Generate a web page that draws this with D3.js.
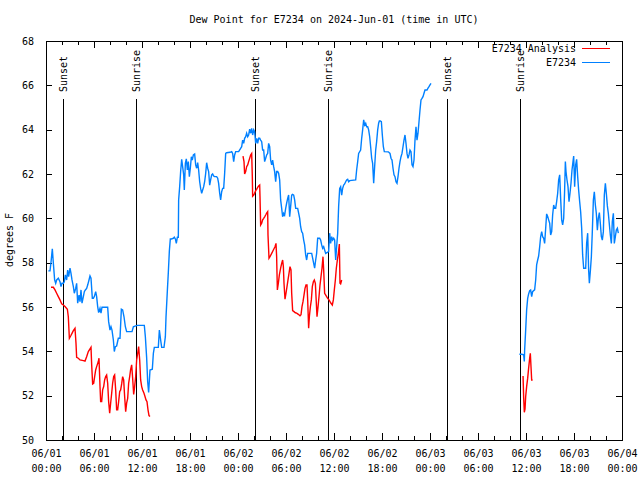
<!DOCTYPE html>
<html><head><meta charset="utf-8">
<script src="https://cdn.jsdelivr.net/npm/d3@7"></script>
<style>
html,body{margin:0;padding:0;background:#fff;}
text{font-family:"DejaVu Sans Mono","Liberation Mono",monospace;font-size:10px;fill:#000;}
</style></head>
<body><svg id="c" width="640" height="480"></svg>
<script>
// ---- data (hours after 2024-06-01 00:00 UTC, degrees F) ----
const titleText = "Dew Point for E7234 on 2024-Jun-01 (time in UTC)";
const yLabel = "degrees F";
const seriesNames = ["E7234 Analysis", "E7234"];
const seriesColors = ["#ff0000", "#0080ff"];
const yTicks = [50,52,54,56,58,60,62,64,66,68];
const xTickHours = [0,6,12,18,24,30,36,42,48,54,60,66,72];
const xTickDates = ["06/01","06/01","06/01","06/01","06/02","06/02","06/02","06/02","06/03","06/03","06/03","06/03","06/04"];
const xTickTimes = ["00:00","06:00","12:00","18:00","00:00","06:00","12:00","18:00","00:00","06:00","12:00","18:00","00:00"];
const sunsetHours = [2.07, 26.07, 50.07];
const sunriseHours = [11.3, 35.3, 59.2];

const blueSeg1 = [[0.29,57.63],[0.5,57.63],[0.625,58.02],[0.79,58.62],[0.92,57.97],[1.08,57.22],[1.21,57.07],[1.33,57.22],[1.54,57.30],[1.75,57.14],[1.875,56.92],[2.0,57.07],[2.17,57.07],[2.29,57.14],[2.42,57.45],[2.58,57.22],[2.71,57.67],[2.83,57.37],[3.0,57.75],[3.125,57.52],[3.25,57.22],[3.42,56.92],[3.54,56.62],[3.71,56.84],[3.83,57.07],[3.96,56.17],[4.125,56.54],[4.25,56.24],[4.375,56.77],[4.5,56.17],[4.67,56.47],[4.79,56.69],[4.92,56.77],[5.08,56.84],[5.21,56.99],[5.375,57.22],[5.5,57.40],[5.625,57.30],[5.79,56.39],[5.92,56.39],[6.04,56.47],[6.21,56.69],[6.33,56.47],[6.46,56.02],[6.58,55.75],[6.75,55.94],[6.875,55.72],[7.0,55.99],[7.58,55.99],[7.71,55.99],[7.83,55.34],[8.0,54.96],[8.125,55.11],[8.25,54.96],[8.42,54.51],[8.54,53.99],[8.67,54.21],[8.83,54.24],[9.04,54.59],[9.25,54.59],[9.42,55.90],[9.58,55.87],[9.75,55.56],[9.92,55.11],[10.08,54.89],[10.25,54.89],[10.75,54.89],[10.92,55.11],[11.125,55.14],[11.42,55.17],[12.29,55.17],[12.42,54.66],[12.58,53.72],[12.71,52.63],[12.83,52.14],[13.0,53.16],[13.29,53.19],[13.42,53.91],[13.54,54.18],[13.83,54.18],[14.04,54.18],[14.17,54.96],[14.33,54.51],[14.46,54.18],[14.75,54.18],[14.92,54.66],[15.0,55.54],[15.17,56.74],[15.29,57.55],[15.42,58.53],[15.54,59.07],[15.67,59.07],[15.92,59.10],[16.04,59.15],[16.17,59.07],[16.29,58.87],[16.42,59.15],[16.54,59.15],[16.58,60.83],[16.71,61.43],[16.83,62.11],[16.96,62.66],[17.08,62.33],[17.21,61.96],[17.29,61.28],[17.42,62.48],[17.54,62.68],[17.67,62.18],[17.79,62.56],[17.92,61.88],[18.04,62.26],[18.17,62.78],[18.29,62.63],[18.42,62.86],[18.58,62.90],[18.71,62.41],[18.83,62.26],[18.96,62.51],[19.08,62.18],[19.21,61.65],[19.33,61.35],[19.46,61.13],[19.58,61.28],[19.71,61.43],[19.83,61.65],[19.96,62.03],[20.08,62.51],[20.21,62.26],[20.33,62.11],[20.46,61.50],[20.58,61.73],[20.71,61.96],[20.83,62.0],[20.96,61.91],[21.08,61.88],[21.33,61.88],[21.46,61.81],[21.58,61.58],[21.71,61.13],[21.83,60.83],[21.96,61.20],[22.08,61.35],[22.21,61.35],[22.33,62.03],[22.46,62.93],[22.58,62.96],[23.0,62.98],[23.21,63.01],[23.33,62.93],[23.46,62.56],[23.58,62.86],[23.71,63.01],[24.08,63.01],[24.33,63.16],[24.46,63.23],[24.58,63.53],[24.71,63.38],[24.83,63.61],[24.96,63.68],[25.08,63.84],[25.21,63.68],[25.33,63.76],[25.46,64.02],[25.58,63.84],[25.71,64.06],[25.83,63.76],[25.96,63.99],[26.08,63.91],[26.21,63.38],[26.33,63.61],[26.46,63.38],[26.58,63.61],[26.71,63.61],[26.83,63.53],[26.96,63.46],[27.08,63.08],[27.21,63.08],[27.33,62.56],[27.46,62.71],[27.58,62.86],[27.71,62.93],[27.83,63.38],[27.96,63.23],[28.08,62.63],[28.21,62.41],[28.33,62.63],[28.46,62.33],[28.58,62.11],[28.71,61.65],[28.83,62.11],[28.96,62.11],[29.08,62.03],[29.21,61.73],[29.33,60.83],[29.46,60.45],[29.58,60.07],[29.71,60.23],[29.83,60.15],[29.96,60.45],[30.08,60.68],[30.21,60.90],[30.33,61.05],[30.46,60.07],[30.58,60.53],[30.71,61.05],[30.83,61.08],[30.96,61.05],[31.08,60.83],[31.21,60.45],[31.46,60.45],[31.58,60.23],[31.71,60.0],[31.83,59.62],[31.96,59.40],[32.08,59.33],[32.21,59.02],[32.33,58.80],[32.46,58.35],[32.58,58.12],[32.71,58.42],[33.21,58.42],[33.33,58.20],[33.46,57.97],[33.58,57.75],[33.71,58.12],[33.83,58.42],[33.96,59.10],[34.21,59.10],[34.33,59.02],[34.46,58.80],[34.58,58.65],[34.71,58.72],[34.83,58.57],[34.96,58.42],[35.33,58.50],[35.46,59.33],[35.58,58.87],[35.71,59.17],[35.83,59.02],[35.96,59.10],[36.08,59.02],[36.21,58.12],[36.33,58.72],[36.46,59.33],[36.58,60.53],[36.71,61.35],[36.83,61.43],[36.96,61.05],[37.08,61.35],[37.21,61.50],[37.33,61.55],[37.46,61.65],[37.58,61.73],[37.71,61.76],[37.83,61.65],[37.96,61.70],[38.71,61.73],[38.83,62.18],[38.96,62.56],[39.08,62.93],[39.33,63.08],[39.46,63.61],[39.58,63.99],[39.71,64.44],[39.83,64.21],[39.96,64.29],[40.08,64.13],[40.21,64.13],[40.33,63.99],[40.46,63.68],[40.58,63.23],[40.71,62.71],[40.83,62.48],[40.96,61.58],[41.08,62.33],[41.21,63.08],[41.33,63.46],[41.46,63.99],[41.58,64.29],[41.67,64.39],[41.79,64.39],[41.92,64.36],[42.04,63.76],[42.17,63.23],[42.29,63.01],[42.79,63.0],[43.0,62.93],[43.125,62.71],[43.25,62.63],[43.375,62.26],[43.5,61.96],[43.625,61.88],[43.75,61.65],[43.875,61.58],[44.0,61.88],[44.125,62.26],[44.25,62.56],[44.375,62.78],[44.5,62.93],[44.625,63.23],[44.75,63.53],[44.875,63.76],[45.0,63.38],[45.125,62.93],[45.25,62.71],[45.375,62.86],[45.5,63.08],[45.625,63.01],[45.75,62.41],[45.875,62.33],[46.0,62.63],[46.125,63.53],[46.25,64.13],[46.375,63.53],[46.5,63.84],[46.625,64.36],[46.75,64.89],[46.875,65.34],[47.0,65.41],[47.125,65.49],[47.25,65.64],[47.375,65.79],[47.625,65.79],[47.75,65.87],[47.875,65.94],[48.0,66.02],[48.125,66.09]];

const blueSeg2 = [[59.17,53.87],[59.46,53.87],[59.71,53.84],[59.79,53.54],[59.83,54.06],[59.96,54.96],[60.08,55.87],[60.21,56.39],[60.33,56.59],[60.46,56.74],[60.58,56.77],[60.71,56.47],[60.83,56.69],[60.96,56.74],[61.08,56.77],[61.21,57.22],[61.33,57.90],[61.46,58.12],[61.58,58.30],[61.71,58.72],[61.83,59.17],[61.96,59.40],[62.08,59.17],[62.21,59.10],[62.33,58.87],[62.46,59.55],[62.58,60.20],[62.71,60.08],[62.83,59.93],[62.96,59.78],[63.08,59.25],[63.21,59.40],[63.33,60.15],[63.46,60.60],[63.58,60.45],[63.71,60.45],[63.83,60.75],[63.96,61.13],[64.08,61.73],[64.21,61.96],[64.33,60.90],[64.46,59.93],[64.58,59.70],[64.71,60.0],[64.83,61.28],[64.92,62.56],[65.0,62.11],[65.125,61.73],[65.25,61.43],[65.375,60.75],[65.5,61.13],[65.625,61.58],[65.75,62.18],[65.875,62.56],[65.96,62.81],[66.08,61.43],[66.21,62.41],[66.33,62.66],[66.46,61.88],[66.58,61.28],[66.71,60.75],[66.83,60.30],[66.96,59.55],[67.08,58.35],[67.21,57.75],[67.46,57.75],[67.58,58.87],[67.71,59.33],[67.83,57.67],[67.92,57.07],[68.04,57.60],[68.17,58.27],[68.29,59.40],[68.42,60.83],[68.54,61.20],[68.67,60.60],[68.79,60.23],[68.92,59.47],[69.04,60.0],[69.17,60.26],[69.29,59.78],[69.42,59.17],[69.54,59.02],[69.67,59.40],[69.79,61.05],[69.92,61.58],[70.04,61.13],[70.17,60.56],[70.29,60.23],[70.54,59.25],[70.67,58.87],[70.79,59.85],[70.92,60.23],[71.04,58.87],[71.17,59.17],[71.29,59.47],[71.42,59.55],[71.54,59.33]];

const redSeg1 = [[0.625,56.89],[0.92,56.89],[1.125,56.77],[1.33,56.62],[1.54,56.47],[1.75,56.32],[1.96,56.14],[2.17,56.09],[2.375,56.02],[2.67,55.90],[2.79,55.56],[2.92,54.59],[3.08,54.69],[3.25,54.81],[3.42,54.93],[3.625,55.04],[3.75,54.36],[3.83,53.73],[4.04,53.69],[4.25,53.61],[4.67,53.58],[4.875,53.56],[5.08,53.76],[5.29,53.99],[5.625,54.18],[5.71,53.39],[5.83,52.53],[5.96,52.56],[6.08,52.86],[6.21,53.16],[6.33,53.31],[6.54,53.54],[6.625,53.69],[6.75,52.41],[6.83,51.73],[6.96,51.73],[7.08,52.26],[7.21,52.41],[7.33,52.71],[7.46,52.86],[7.58,52.93],[7.71,52.56],[7.83,51.73],[7.96,51.21],[8.08,51.66],[8.21,52.11],[8.33,52.56],[8.46,52.86],[8.58,52.93],[8.71,52.26],[8.83,51.36],[8.96,51.36],[9.08,51.73],[9.21,52.18],[9.33,52.26],[9.46,52.53],[9.58,52.86],[9.71,52.71],[9.83,51.96],[9.96,51.28],[10.08,51.66],[10.21,51.88],[10.33,52.56],[10.46,52.86],[10.58,53.19],[10.71,53.39],[10.83,52.79],[10.96,52.06],[11.08,52.41],[11.21,52.86],[11.33,53.61],[11.46,53.91],[11.58,54.21],[11.71,53.61],[11.83,52.71],[11.96,52.41],[12.08,52.26],[12.25,52.11],[12.375,51.96],[12.5,51.81],[12.625,51.73],[12.75,51.36],[12.875,51.10],[13.0,51.06]];

const redSeg2 = [[24.625,62.81],[24.75,62.56],[24.83,62.0],[24.96,62.11],[25.08,62.33],[25.21,62.41],[25.33,62.56],[25.46,62.71],[25.58,62.86],[25.71,62.93],[25.79,61.88],[25.83,61.0],[25.96,61.05],[26.08,61.13],[26.21,61.25],[26.33,61.31],[26.46,61.40],[26.58,61.46],[26.71,61.50],[26.75,60.98],[26.83,59.70],[26.96,59.78],[27.08,59.93],[27.21,60.0],[27.33,60.07],[27.46,60.15],[27.58,60.23],[27.71,60.30],[27.75,59.25],[27.875,58.20],[28.0,58.27],[28.21,58.42],[28.42,58.57],[28.625,58.72],[28.75,58.87],[28.83,58.27],[28.92,56.77],[29.04,57.07],[29.17,57.45],[29.33,57.75],[29.46,57.97],[29.58,58.12],[29.67,57.82],[29.75,57.07],[29.875,56.35],[30.0,56.62],[30.125,56.92],[30.25,57.22],[30.375,57.52],[30.5,57.82],[30.625,57.67],[30.71,56.62],[30.83,55.84],[31.0,55.79],[31.17,55.74],[31.33,55.72],[31.54,55.67],[31.75,55.60],[31.875,55.65],[32.0,56.02],[32.125,56.24],[32.25,56.54],[32.375,56.84],[32.5,56.99],[32.625,56.99],[32.71,56.32],[32.83,55.04],[32.92,55.56],[33.04,55.99],[33.17,56.32],[33.29,56.92],[33.42,57.14],[33.54,57.22],[33.67,57.07],[33.75,56.47],[33.875,55.56],[34.0,55.99],[34.125,56.47],[34.25,56.99],[34.375,57.37],[34.5,57.75],[34.625,58.27],[34.71,57.67],[34.83,56.62],[35.08,56.47],[35.21,56.39],[35.375,56.32],[35.5,56.24],[35.625,56.17],[35.79,56.09],[35.92,56.32],[36.04,56.77],[36.17,57.22],[36.29,57.75],[36.42,58.12],[36.54,58.42],[36.67,58.84],[36.75,57.07],[36.83,57.04],[36.96,57.22]];

const redSeg3 = [[59.63,52.89],[59.71,51.9],[59.79,51.25],[59.88,51.4],[59.96,51.96],[60.08,52.41],[60.21,52.79],[60.33,53.24],[60.46,53.69],[60.54,53.91],[60.625,53.31],[60.71,52.71],[60.83,52.71]];

const redSegments = [redSeg1, redSeg2, redSeg3];
const blueSegments = [blueSeg1, blueSeg2];

// ---- layout ----
const L = 46, R = 622, T = 41, B = 440;
const svg = d3.select("#c");
const x = d3.scaleLinear().domain([0, 72]).range([L, R]);
const y = d3.scaleLinear().domain([50, 68]).range([B, T]);

// title
svg.append("text").attr("x", 334).attr("y", 23).attr("text-anchor", "middle").text(titleText);
// y label
svg.append("text").attr("transform", "translate(13,240) rotate(-90)").attr("text-anchor", "middle").text(yLabel);

// axes
const minorHours = d3.range(0, 73, 2);
function clean(g){ g.select(".domain").remove(); g.selectAll("line").attr("stroke", "#000").attr("shape-rendering","crispEdges"); }

svg.append("g").attr("transform", `translate(0,${B})`)
  .call(d3.axisBottom(x).tickValues(minorHours).tickSize(-4).tickFormat("")).call(clean);
svg.append("g").attr("transform", `translate(0,${T})`)
  .call(d3.axisTop(x).tickValues(minorHours).tickSize(-4).tickFormat("")).call(clean);
svg.append("g").attr("transform", `translate(0,${T})`)
  .call(d3.axisTop(x).tickValues(xTickHours).tickSize(-7).tickFormat("")).call(clean);

const bx = svg.append("g").attr("transform", `translate(0,${B})`)
  .call(d3.axisBottom(x).tickValues(xTickHours).tickSize(-7).tickPadding(9).tickFormat(""));
bx.call(clean);
bx.selectAll(".tick text").each(function(d, i){
  const t = d3.select(this).attr("y", 0).attr("dy", null).attr("font-family", null).attr("font-size", null);
  t.append("tspan").attr("x", 0).attr("y", 17).text(xTickDates[i]);
  t.append("tspan").attr("x", 0).attr("y", 32).text(xTickTimes[i]);
});

const ly = svg.append("g").attr("transform", `translate(${L},0)`)
  .call(d3.axisLeft(y).tickValues(yTicks).tickSize(-6).tickPadding(12).tickFormat(d3.format("d")));
ly.call(clean);
ly.selectAll(".tick text").attr("font-family", null).attr("font-size", null);
svg.append("g").attr("transform", `translate(${R},0)`)
  .call(d3.axisRight(y).tickValues(yTicks).tickSize(-6).tickFormat("")).call(clean);

// frame
svg.append("rect").attr("x", L + 0.5).attr("y", T + 0.5).attr("width", R - L).attr("height", B - T)
  .attr("fill", "none").attr("stroke", "#000");

// sun lines
const sunEvents = sunsetHours.map(h => ({h, label: "Sunset"}))
  .concat(sunriseHours.map(h => ({h, label: "Sunrise"})));
const sg = svg.append("g");
sunEvents.forEach(e => {
  const px = Math.round(x(e.h)) + 0.5;
  sg.append("line").attr("x1", px).attr("x2", px).attr("y1", 99).attr("y2", B)
    .attr("stroke", "#000").attr("shape-rendering", "crispEdges");
  sg.append("text").attr("transform", `translate(${px},92) rotate(-90)`)
    .attr("text-anchor", "start").attr("dy", "0.35em").text(e.label);
});

// lines
const line = d3.line().x(d => x(d[0])).y(d => y(d[1]));
blueSegments.forEach(s => svg.append("path").datum(s).attr("d", line)
  .attr("fill", "none").attr("stroke", seriesColors[1]).attr("stroke-width", 1.4));
redSegments.forEach(s => svg.append("path").datum(s).attr("d", line)
  .attr("fill", "none").attr("stroke", seriesColors[0]).attr("stroke-width", 1.4));

// legend
const legY = [48.5, 62.5];
seriesNames.forEach((n, i) => {
  svg.append("text").attr("x", 576).attr("y", legY[i]).attr("dy", "0.35em").attr("text-anchor", "end").text(n);
  svg.append("line").attr("x1", 582).attr("x2", 610).attr("y1", legY[i]).attr("y2", legY[i])
    .attr("stroke", seriesColors[i]).attr("shape-rendering", "crispEdges");
});
</script></body></html>
